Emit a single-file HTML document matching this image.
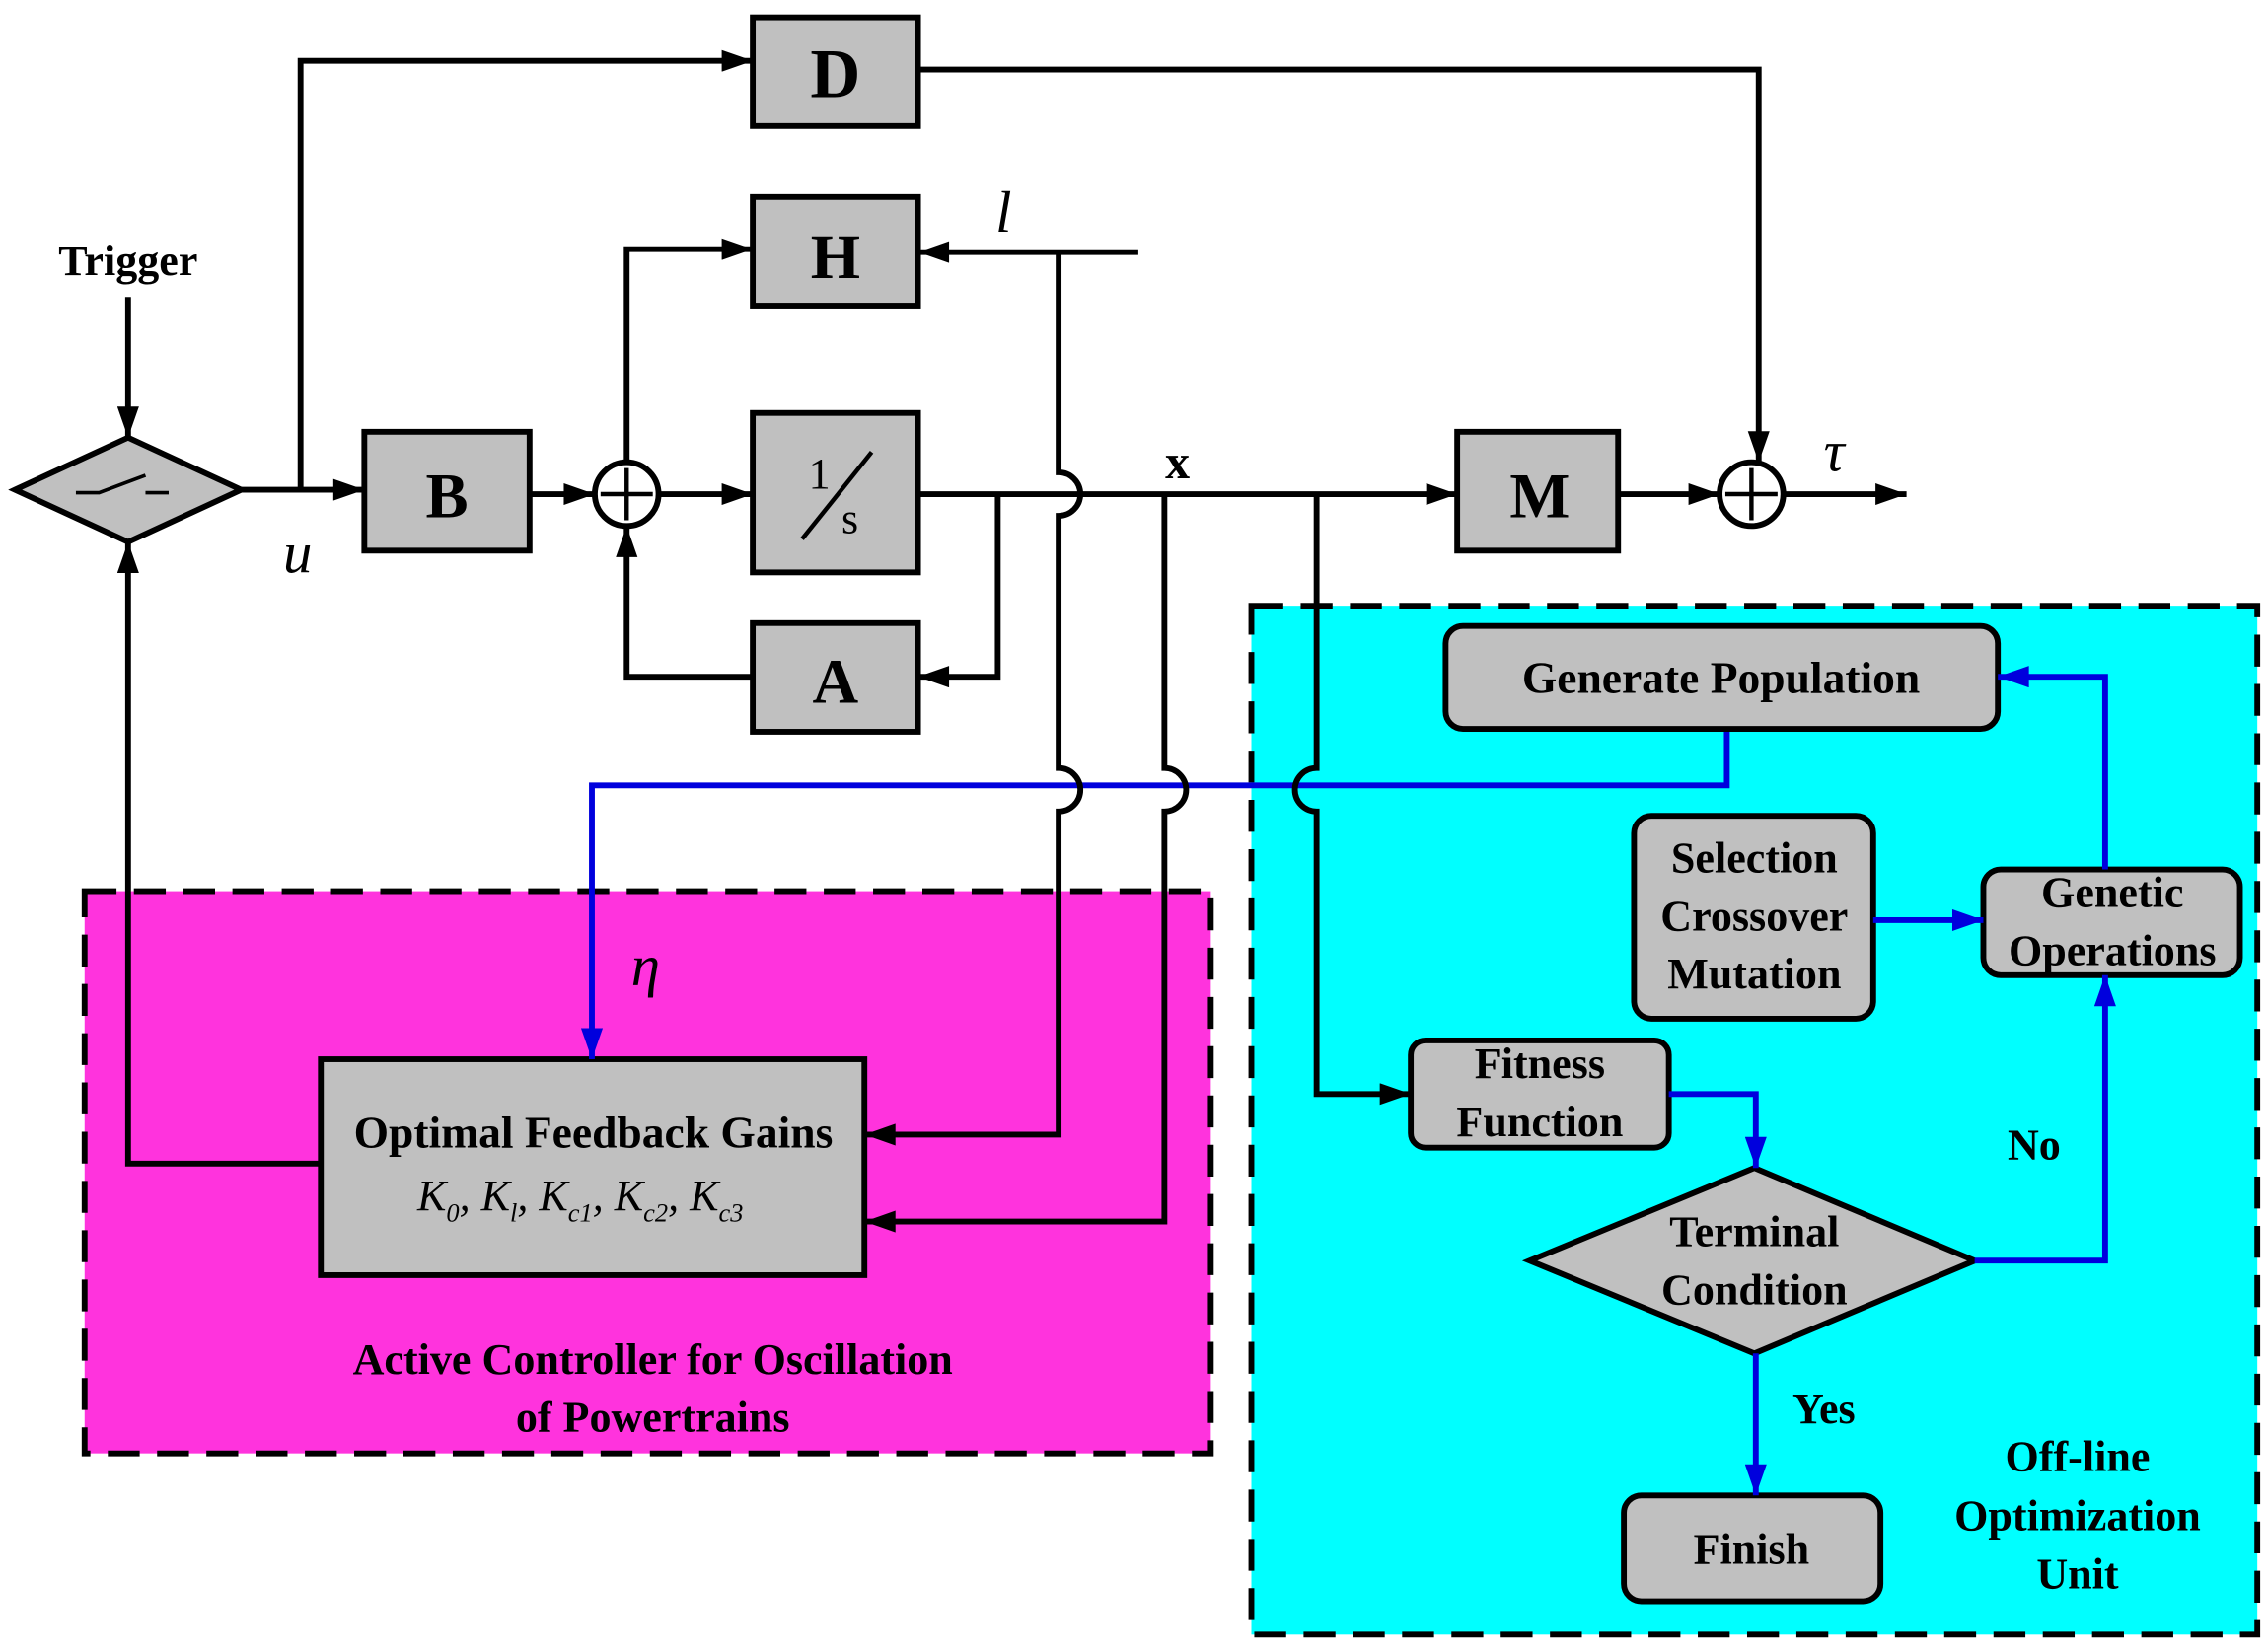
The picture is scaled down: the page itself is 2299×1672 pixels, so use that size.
<!DOCTYPE html>
<html><head><meta charset="utf-8"><style>html,body{margin:0;padding:0;background:#fff}svg{display:block}text{font-family:"Liberation Serif",serif;font-weight:bold}</style></head><body>
<svg width="2299" height="1672" viewBox="0 0 1564 1138" xmlns="http://www.w3.org/2000/svg">
<defs>
<marker id="a" viewBox="0 0 20 14" markerWidth="22" markerHeight="15" refX="20" refY="7" orient="auto" markerUnits="userSpaceOnUse"><path d="M0,0 L20,7 L0,14 Z" fill="#000"/></marker>
<marker id="b" viewBox="0 0 20 14" markerWidth="22" markerHeight="15" refX="20" refY="7" orient="auto" markerUnits="userSpaceOnUse"><path d="M0,0 L20,7 L0,14 Z" fill="#0000dd"/></marker>
</defs>
<rect x="58" y="615" width="777" height="388" fill="#ff33dd" stroke="#000" stroke-width="4" stroke-dasharray="22,12"/>
<rect x="863" y="418" width="694" height="710" fill="#00ffff" stroke="#000" stroke-width="4" stroke-dasharray="22,12"/>
<g fill="#c0c0c0" stroke="#000" stroke-width="4">
<rect x="519" y="12" width="114" height="75"/>
<rect x="519" y="136" width="114" height="75"/>
<rect x="519" y="285" width="114" height="110"/>
<rect x="519" y="430" width="114" height="75"/>
<rect x="251" y="298" width="114" height="82"/>
<rect x="1005" y="298" width="111" height="82"/>
<rect x="221" y="731" width="375" height="149"/>
<polygon points="10,338 88,302 166,338 88,374"/>
<rect x="997" y="432" width="381" height="71" rx="12"/>
<rect x="1127" y="563" width="165" height="140" rx="12"/>
<rect x="1368" y="600" width="177" height="73" rx="12"/>
<rect x="973" y="718" width="178" height="74" rx="10"/>
<polygon points="1055,870 1210,806 1362,870 1210,934"/>
<rect x="1120" y="1032" width="177" height="73" rx="12"/>
</g>
<g fill="#fff" stroke="#000" stroke-width="4">
<circle cx="432" cy="341" r="22"/><circle cx="1208" cy="341" r="22"/>
</g>
<g stroke="#000" stroke-width="3"><path d="M414,341H450M432,323V359M1190,341H1226M1208,323V359"/></g>
<path d="M52,340H68L100,328M100,340H116" stroke="#000" stroke-width="2.5" fill="none"/>
<g fill="none" stroke="#0000dd" stroke-width="4">
<path d="M1191,505V542H408V731" marker-end="url(#b)"/>
<path d="M1292,635H1368" marker-end="url(#b)"/>
<path d="M1452,600V467H1378" marker-end="url(#b)"/>
<path d="M1151,755H1211V806" marker-end="url(#b)"/>
<path d="M1362,870H1452V673" marker-end="url(#b)"/>
<path d="M1211,934V1032" marker-end="url(#b)"/>
</g>
<g fill="none" stroke="#000" stroke-width="4">
<path d="M88,205V302" marker-end="url(#a)"/>
<path d="M166,338H251" marker-end="url(#a)"/>
<path d="M207,338V42H519" marker-end="url(#a)"/>
<path d="M365,341H410" marker-end="url(#a)"/>
<path d="M454,341H519" marker-end="url(#a)"/>
<path d="M432,319V172H519" marker-end="url(#a)"/>
<path d="M519,467H432V363" marker-end="url(#a)"/>
<path d="M633,341H1005" marker-end="url(#a)"/>
<path d="M688,341V467H633" marker-end="url(#a)"/>
<path d="M785,174H633" marker-end="url(#a)"/>
<path d="M730,174V326A15,15 0 0 1 730,356V530A15,15 0 0 1 730,560V783H596" marker-end="url(#a)"/>
<path d="M803,341V530A15,15 0 0 1 803,560V843H596" marker-end="url(#a)"/>
<path d="M908,341V530A15,15 0 0 0 908,560V755H973" marker-end="url(#a)"/>
<path d="M633,48H1213V319" marker-end="url(#a)"/>
<path d="M1116,341H1186" marker-end="url(#a)"/>
<path d="M1230,341H1315" marker-end="url(#a)"/>
<path d="M221,803H88V374" marker-end="url(#a)"/>
</g>
<g text-anchor="middle" fill="#000">
<text x="576" y="67" font-size="48">D</text>
<text x="576" y="192" font-size="44">H</text>
<text x="576" y="485" font-size="44">A</text>
<text x="308" y="357" font-size="44">B</text>
<text x="1062" y="357" font-size="44">M</text>
<text x="565" y="337" font-size="30" style="font-weight:normal">1</text>
<path d="M553,372L601,312" stroke="#000" stroke-width="3"/>
<text x="586" y="368" font-size="30" style="font-weight:normal">s</text>
<text x="88" y="190" font-size="30">Trigger</text>
<text x="812" y="330" font-size="34">x</text>
<text x="205" y="395" font-size="40" font-style="italic" style="font-weight:normal">u</text>
<text x="692" y="160" font-size="40" font-style="italic" style="font-weight:normal">l</text>
<text x="1265" y="325" font-size="40" font-style="italic" style="font-weight:normal">τ</text>
<text x="445" y="680" font-size="40" font-style="italic" style="font-weight:normal">η</text>
<text x="409" y="792" font-size="31">Optimal Feedback Gains</text>
<text x="400" y="835" font-size="30" font-style="italic" style="font-weight:normal">K<tspan font-size="18" dy="8">0</tspan><tspan dy="-8">, K</tspan><tspan font-size="18" dy="8">l</tspan><tspan dy="-8">, K</tspan><tspan font-size="18" dy="8">c1</tspan><tspan dy="-8">, K</tspan><tspan font-size="18" dy="8">c2</tspan><tspan dy="-8">, K</tspan><tspan font-size="18" dy="8">c3</tspan></text>
<text x="450" y="948" font-size="30">Active Controller for Oscillation</text>
<text x="450" y="988" font-size="30">of Powertrains</text>
<text x="1187" y="478" font-size="31">Generate Population</text>
<text x="1210" y="602" font-size="30">Selection</text>
<text x="1210" y="642" font-size="30">Crossover</text>
<text x="1210" y="682" font-size="30">Mutation</text>
<text x="1457" y="626" font-size="30">Genetic</text>
<text x="1457" y="666" font-size="30">Operations</text>
<text x="1062" y="744" font-size="30">Fitness</text>
<text x="1062" y="784" font-size="30">Function</text>
<text x="1210" y="860" font-size="30">Terminal</text>
<text x="1210" y="900" font-size="30">Condition</text>
<text x="1208" y="1079" font-size="30">Finish</text>
<text x="1403" y="800" font-size="30">No</text>
<text x="1258" y="982" font-size="30">Yes</text>
<text x="1433" y="1015" font-size="30">Off-line</text>
<text x="1433" y="1056" font-size="30">Optimization</text>
<text x="1433" y="1096" font-size="30">Unit</text>
</g>
</svg>
</body></html>
